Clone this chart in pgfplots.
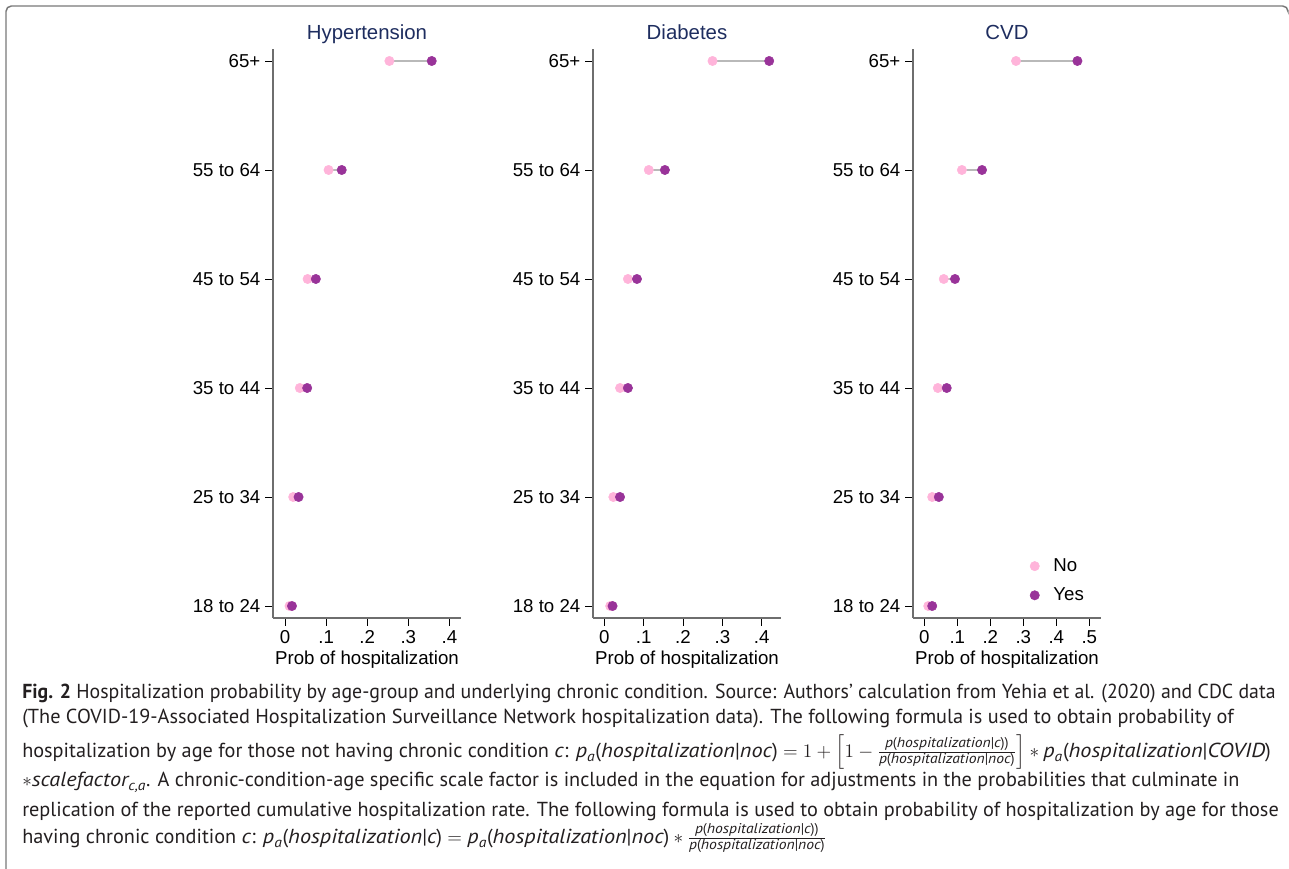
\documentclass[border=0pt]{standalone}
\usepackage{fontspec}
\usepackage{amsmath}
\usepackage{graphicx}
\usepackage{pgfplots}
\pgfplotsset{compat=1.18}
\usepackage{pgfplotstable}
\setmainfont{Liberation Sans}
\newfontfamily\capfont{PT Sans}[ItalicFeatures={FakeStretch=1.1}]
\definecolor{nocol}{RGB}{255,180,218}
\definecolor{yescol}{RGB}{153,51,153}
\definecolor{linecol}{RGB}{185,185,185}
\definecolor{axisgray}{RGB}{110,110,110}
\definecolor{titlecol}{RGB}{30,45,95}
\definecolor{captext}{RGB}{35,31,32}
\definecolor{framecol}{RGB}{120,120,120}
\newcommand\ti[1]{\text{\itshape #1}}
\newcommand\tx[1]{\text{#1}}
\def\PX{0.75pt}

\pgfplotstableread{
y no yes
0 0.011 0.017
1 0.020 0.033
2 0.036 0.054
3 0.055 0.075
4 0.106 0.138
5 0.254 0.357
}\hyp
\pgfplotstableread{
y no yes
0 0.015 0.021
1 0.023 0.040
2 0.040 0.060
3 0.060 0.083
4 0.113 0.154
5 0.275 0.419
}\dia
\pgfplotstableread{
y no yes
0 0.012 0.024
1 0.024 0.044
2 0.041 0.068
3 0.059 0.093
4 0.114 0.175
5 0.278 0.464
}\cvd

\pgfplotsset{
  panel/.style={
    scale only axis, width=141pt, height=426.75pt,
    ymin=-0.11, ymax=5.11, ytick={0,...,5},
    yticklabels={18 to 24,25 to 34,35 to 44,45 to 54,55 to 64,65+},
    axis x line*=bottom, axis y line*=left,
    axis line style={-, draw=axisgray, line width=1.2pt},
    tick align=outside, major tick length=6pt,
    tick style={black, line width=0.6pt},
    every tick label/.append style={font=\fontsize{14}{16}\selectfont},
    xlabel={Prob of hospitalization},
    label style={font=\fontsize{14}{16}\selectfont},
    xlabel style={at={(0.5,0)}, anchor=base, yshift=-34.5pt},
    title style={font=\fontsize{15.3}{17}\selectfont, text=titlecol, at={(0.5,1)}, anchor=base, yshift=0.75pt},
    /pgf/number format/assume math mode=true,
    clip=false,
  },
  conn/.style={only marks, mark=none, forget plot,
    error bars/.cd, x dir=plus, x explicit, error mark=none,
    error bar style={linecol, line width=0.9pt}},
  nomark/.style={only marks, mark=*, mark size=3.5pt, color=nocol},
  yesmark/.style={only marks, mark=*, mark size=3.5pt, color=yescol},
}

\begin{document}
\begin{tikzpicture}
\path[use as bounding box] (0,0) rectangle ({1289*\PX},{868*\PX});
\draw[framecol, line width=1.1pt, rounded corners=4pt]
  ({6*\PX},{-2*\PX}) -- ({6*\PX},{862*\PX}) -- ({1288*\PX},{862*\PX}) -- ({1288*\PX},{858*\PX});

\begin{axis}[panel, at={({273*\PX},{250*\PX})}, anchor=south west,
  title={Hypertension}, xmin=-0.0292, xmax=0.4282,
  xtick={0,0.1,0.2,0.3,0.4}, xticklabels={0,.1,.2,.3,.4}]
\addplot[conn] table[x=no, y=y, x error plus expr=\thisrow{yes}-\thisrow{no}] {\hyp};
\addplot[nomark] table[x=no, y=y] {\hyp};
\addplot[yesmark] table[x=yes, y=y] {\hyp};
\end{axis}

\begin{axis}[panel, at={({593*\PX},{250*\PX})}, anchor=south west,
  title={Diabetes}, xmin=-0.0287, xmax=0.449,
  xtick={0,0.1,0.2,0.3,0.4}, xticklabels={0,.1,.2,.3,.4}]
\addplot[conn] table[x=no, y=y, x error plus expr=\thisrow{yes}-\thisrow{no}] {\dia};
\addplot[nomark] table[x=no, y=y] {\dia};
\addplot[yesmark] table[x=yes, y=y] {\dia};
\end{axis}

\begin{axis}[panel, at={({913*\PX},{250*\PX})}, anchor=south west,
  title={CVD}, xmin=-0.0342, xmax=0.5355,
  xtick={0,0.1,0.2,0.3,0.4,0.5}, xticklabels={0,.1,.2,.3,.4,.5},
  legend image code/.code={\draw[#1] plot coordinates {(0pt,0pt)}; \path[draw=none, fill=none] (-3.5pt,0pt) -- (12pt,0pt);},
  legend style={draw=none, fill=none, at={(axis description cs:0.60,0.017)}, anchor=south west,
    font=\fontsize{14}{16}\selectfont, row sep=6.75pt},
  legend cell align=left]
\addplot[conn] table[x=no, y=y, x error plus expr=\thisrow{yes}-\thisrow{no}] {\cvd};
\addplot[nomark] table[x=no, y=y] {\cvd};
\addplot[yesmark] table[x=yes, y=y] {\cvd};
\legend{No,Yes}
\end{axis}

\begin{scope}[every node/.style={anchor=base west, inner sep=0pt, text=captext,
    font=\capfont\fontsize{15.2}{17}\selectfont}]
\node at ({22*\PX},{(868-699)*\PX}) {\resizebox{940pt}{\height}{{\bfseries Fig. 2} Hospitalization probability by age-group and underlying chronic condition. Source: Authors’ calculation from Yehia et al. (2020) and CDC data}};
\node at ({22*\PX},{(868-724)*\PX}) {(The COVID-19-Associated Hospitalization Surveillance Network hospitalization data). The following formula is used to obtain probability of};
\node at ({22*\PX},{(868-757)*\PX}) {hospitalization by age for those not having chronic condition \textit{c}: $\ti{p}_{\ti{a}}\tx{(}\ti{hospitalization}\tx{|}\ti{noc}\tx{)} = 1 + \left[1 - \frac{\ti{p}\tx{(}\ti{hospitalization}\tx{|}\ti{c}\tx{))}}{\ti{p}\tx{(}\ti{hospitalization}\tx{|}\ti{noc}\tx{)}}\right] \ast \ti{p}_{\ti{a}}\tx{(}\ti{hospitalization}\tx{|}\ti{COVID}\tx{)}$};
\node at ({22*\PX},{(868-786)*\PX}) {$\ast\ti{scalefactor}_{\ti{c,a}}$. A chronic-condition-age specific scale factor is included in the equation for adjustments in the probabilities that culminate in};
\node at ({22*\PX},{(868-816)*\PX}) {replication of the reported cumulative hospitalization rate. The following formula is used to obtain probability of hospitalization by age for those};
\node at ({22*\PX},{(868-843)*\PX}) {having chronic condition \textit{c}: $\ti{p}_{\ti{a}}\tx{(}\ti{hospitalization}\tx{|}\ti{c}\tx{)} = \ti{p}_{\ti{a}}\tx{(}\ti{hospitalization}\tx{|}\ti{noc}\tx{)} \ast \frac{\ti{p}\tx{(}\ti{hospitalization}\tx{|}\ti{c}\tx{))}}{\ti{p}\tx{(}\ti{hospitalization}\tx{|}\ti{noc}\tx{)}}$};
\end{scope}
\end{tikzpicture}
\end{document}
